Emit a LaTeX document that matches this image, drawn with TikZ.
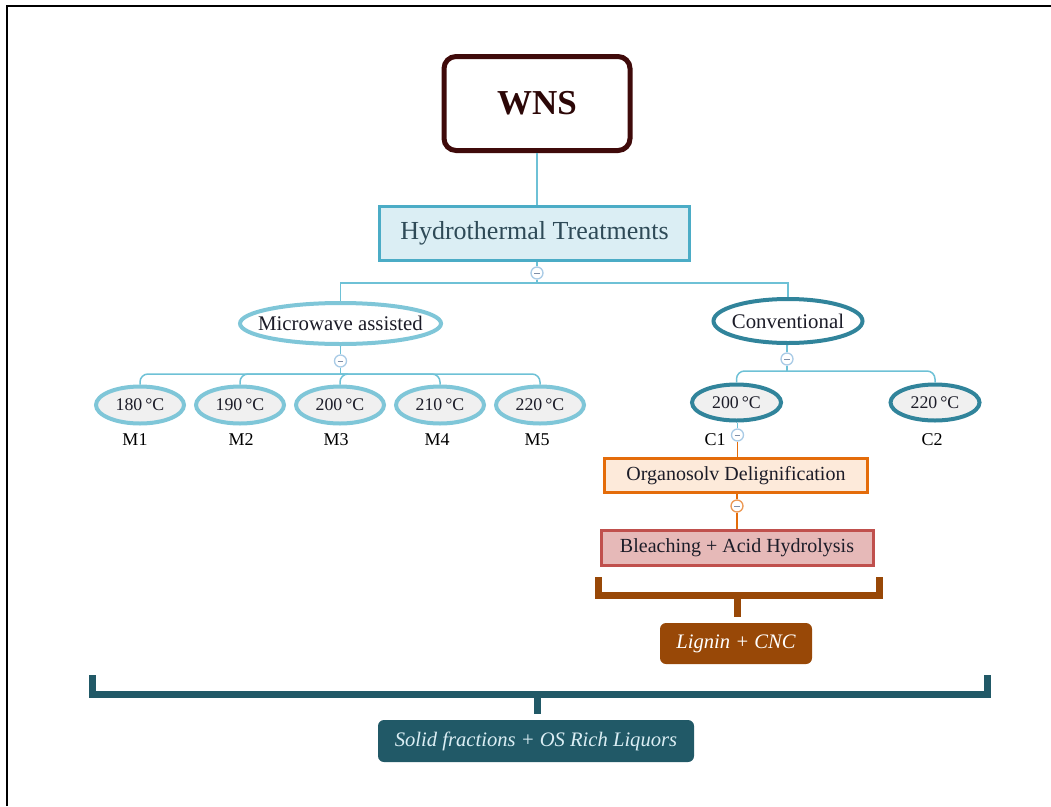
\documentclass[tikz,border=0pt]{standalone}
\usepackage{fontspec}
\setmainfont{Liberation Serif}
\usetikzlibrary{shapes.geometric}
\definecolor{wnsc}{HTML}{3F0A0A}
\definecolor{hyfill}{HTML}{DBEEF4}
\definecolor{hyline}{HTML}{4BACC6}
\definecolor{hytext}{HTML}{2E4A57}
\definecolor{lightb}{HTML}{7FC6D8}
\definecolor{darkt}{HTML}{31849B}
\definecolor{greyf}{HTML}{F0F0F0}
\definecolor{linkb}{HTML}{6EC1D6}
\definecolor{togb}{HTML}{A9CBE6}
\definecolor{togm}{HTML}{7F8FA8}
\definecolor{orgfill}{HTML}{FDEADA}
\definecolor{orgline}{HTML}{E46C0A}
\definecolor{blfill}{HTML}{E6B9B8}
\definecolor{blline}{HTML}{C0504D}
\definecolor{brown}{HTML}{984807}
\definecolor{teal}{HTML}{215967}
\definecolor{txt}{HTML}{1C1C28}
\tikzset{
  wnsbox/.style={draw=wnsc, line width=5pt, rounded corners=12pt, minimum width=186pt, minimum height=94pt, text=wnsc!70!black, font=\fontsize{35}{40}\selectfont\bfseries},
  hybox/.style={draw=hyline, fill=hyfill, line width=3pt, minimum width=310pt, minimum height=54pt, text=hytext, font=\fontsize{26}{30}\selectfont},
  bigell/.style={ellipse, line width=4pt, fill=white, inner ysep=0pt, text=txt, font=\fontsize{20.8}{24}\selectfont},
  mell/.style={ellipse, draw=lightb, fill=greyf, line width=4pt, minimum width=88pt, minimum height=37pt, inner sep=0pt, text=txt, font=\fontsize{17.8}{20}\selectfont},
  cell/.style={ellipse, draw=darkt, fill=greyf, line width=4pt, minimum width=89pt, minimum height=36pt, inner sep=0pt, text=txt, font=\fontsize{17.8}{20}\selectfont},
  lab/.style={text=black, font=\fontsize{18}{20}\selectfont, inner sep=0pt},
  link/.style={draw=linkb, line width=1.5pt},
  olink/.style={draw=orgline, line width=1.5pt},
  tog/.style={circle, draw=togb, fill=white, line width=1.3pt, minimum size=12pt, inner sep=0pt,
    path picture={\draw[togm, line width=1pt] ([xshift=-2.8pt]path picture bounding box.center) -- ([xshift=2.8pt]path picture bounding box.center);}},
  otog/.style={tog, draw=orgline!70},
  stepbox/.style={line width=3pt, inner sep=0pt, text=txt, font=\fontsize{20}{22}\selectfont},
  resbox/.style={rounded corners=6pt, inner sep=0pt, font=\fontsize{20.6}{24}\selectfont\itshape},
  brk/.style={line width=7pt, line cap=butt}
}
\begin{document}
\begin{tikzpicture}[x=1pt,y=-1pt]
\useasboundingbox (0,0) rectangle (1051,806);
\draw[line width=2.5pt, black] (7,806) -- (7,6) -- (1051,6);

\node[wnsbox] (wns) at (537,103.5) {WNS};
\node[hybox] (hy) at (534.5,233.5) {Hydrothermal Treatments};
\node[tog] (t0) at (537,273) {};
\coordinate (j0) at (537,283);

\node[bigell, draw=lightb, inner xsep=-12pt, minimum width=201pt, minimum height=41pt] (mw) at (340.5,323.5) {Microwave assisted};
\node[bigell, draw=darkt, inner xsep=-4pt, minimum width=149pt, minimum height=44pt] (cv) at (788,321) {Conventional};

\draw[link] (wns.south) -- (wns.south |- hy.north);
\draw[link] (hy.south -| t0) -- (t0.north);
\draw[link] (t0.south) -- (j0);
\draw[link] (j0) -| (mw.north);
\draw[link] (j0) -| (cv.north);

% microwave children
\node[tog] (t1) at (340.5,361) {};
\draw[link] (mw.south -| t1) -- (t1.north);
\coordinate (j1) at (340.5,374);
\draw[link] (t1.south) -- (j1);
\foreach \x/\t/\n/\lx in {140/180/1/135, 240/190/2/241, 340/200/3/336, 440/210/4/437, 540/220/5/537}{
  \node[mell] (m\n) at (\x,405) {\t\,°C};
  \node[lab] (ml\n) at (\lx,440) {M\n};
  \draw[link, rounded corners=8pt] (j1) -| (m\n.north);
}

% conventional children
\node[tog] (t2) at (787,359) {};
\draw[link] (cv.south -| t2) -- (t2.north);
\coordinate (j2) at (787,371);
\draw[link] (t2.south) -- (j2);
\node[cell] (c1) at (736.5,402.5) {200\,°C};
\node[cell] (c2) at (935,402.5) {220\,°C};
\draw[link, rounded corners=8pt] (j2) -| (c1.north);
\draw[link, rounded corners=8pt] (j2) -| (c2.north);
\node[lab] (cl1) at (715,440) {C1};
\node[lab] (cl2) at (932,440) {C2};

\node[tog] (t3) at (737.5,435) {};
\draw[link] (c1.south -| t3) -- (t3.north);
\node[stepbox, draw=orgline, fill=orgfill, minimum width=263pt, minimum height=34pt] (org) at (736,475.5) {Organosolv Delignification};
\draw[olink] (t3.south) -- (t3.south |- org.north);
\node[otog] (t4) at (737,506) {};
\draw[olink] (org.south -| t4) -- (t4.north);
\node[stepbox, draw=blline, fill=blfill, minimum width=272pt, minimum height=35pt] (bl) at (737,548) {Bleaching + Acid Hydrolysis};
\draw[olink] (t4.south) -- (t4.south |- bl.north);

% brown bracket
\draw[brk, brown] (598.5,577) -- (598.5,595) -- (879.5,595) -- (879.5,577);
\coordinate (k1) at (737,595);
\node[resbox, fill=brown, text=white, minimum width=152pt, minimum height=41pt] (lig) at (736,643.5) {Lignin + CNC};
\draw[brk, brown] (k1) -- (k1 |- 0,617);

% teal bracket
\draw[brk, teal] (92,675) -- (92,694) -- (987,694) -- (987,675);
\coordinate (k2) at (537,694);
\draw[brk, teal] (k2) -- (k2 |- 0,714);
\node[resbox, fill=teal, text=hyfill, minimum width=316pt, minimum height=42pt] (sol) at (536,741) {Solid fractions + OS Rich Liquors};
\end{tikzpicture}
\end{document}
